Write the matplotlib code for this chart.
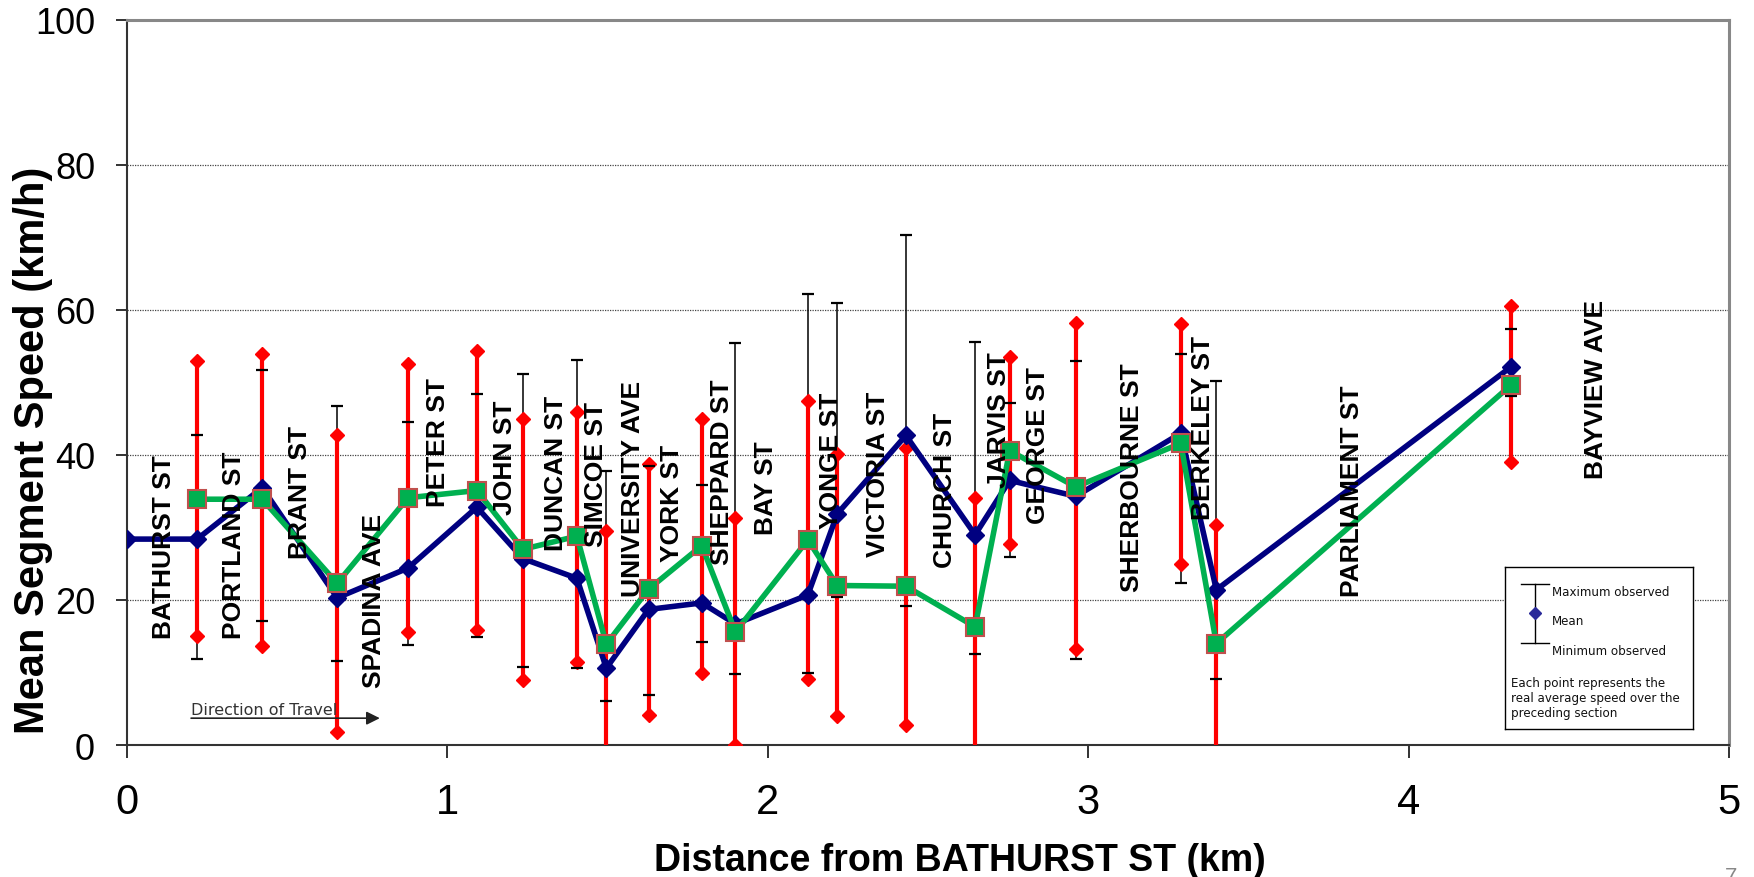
import matplotlib.pyplot as plt

plt.rcParams['font.family'] = ['Liberation Sans', 'DejaVu Sans']

# Distance of each intersection from BATHURST ST (km)
dist = [0.0, 0.219, 0.422, 0.656, 0.877, 1.092, 1.236, 1.404, 1.496, 1.628, 1.794,
        1.899, 2.125, 2.217, 2.431, 2.647, 2.755, 2.961, 3.289, 3.400, 4.321]

# Mean segment speed, run A (blue) and run B (green, starts at 2nd point)
speed_a = [28.4, 28.4, 35.5, 20.3, 24.4, 32.8, 25.7, 23.0, 10.6, 18.7, 19.6,
           16.7, 20.7, 31.9, 42.7, 29.0, 36.5, 34.3, 43.0, 21.4, 52.2]
speed_b = [33.9, 33.9, 22.3, 34.1, 35.1, 27.0, 28.8, 13.9, 21.5, 27.5,
           15.6, 28.3, 22.0, 21.9, 16.3, 40.6, 35.6, 41.6, 14.0, 49.7]

# Red range bars (same x as speed_b)
red_hi = [52.9, 54.0, 42.7, 52.6, 54.3, 44.9, 46.0, 29.5, 38.8, 45.0,
          31.3, 47.4, 40.1, 41.0, 34.1, 53.5, 58.2, 58.1, 30.3, 60.5]
red_lo = [15.0, 13.7, 1.75, 15.6, 15.9, 9.0, 11.5, -1.5, 4.1, 9.9,
          0.0, 9.1, 4.0, 2.8, -1.5, 27.7, 13.2, 25.0, -1.5, 39.0]

# Maximum / minimum observed (black bars)
obs_max = [42.8, 51.7, 46.7, 44.6, 48.4, 51.2, 53.1, 37.8, 38.5, 35.8,
           55.5, 62.2, 61.0, 70.3, 55.6, 47.2, 53.0, 53.9, 50.2, 57.4]
obs_min = [11.9, 17.1, 11.6, 13.8, 14.9, 10.7, 10.6, 6.1, 6.9, 14.2,
           9.8, 9.9, 20.4, 19.2, 12.5, 26.0, 11.9, 22.3, 9.1, 48.1]

streets = ['BATHURST ST', 'PORTLAND ST', 'BRANT ST', 'SPADINA AVE', 'PETER ST',
           'JOHN ST', 'DUNCAN ST', 'SIMCOE ST', 'UNIVERSITY AVE', 'YORK ST',
           'SHEPPARD ST', 'BAY ST', 'YONGE ST', 'VICTORIA ST', 'CHURCH ST',
           'JARVIS ST', 'GEORGE ST', 'SHERBOURNE ST', 'BERKELEY ST',
           'PARLIAMENT ST', 'BAYVIEW AVE']
street_x = [0.116, 0.333, 0.539, 0.770, 0.970, 1.179, 1.340, 1.465, 1.580, 1.702,
            1.856, 1.995, 2.197, 2.343, 2.553, 2.721, 2.842, 3.137, 3.357,
            3.823, 4.585]
street_y = [14.8, 14.8, 25.8, 8.0, 33.0, 31.9, 26.9, 27.4, 20.5, 25.4,
            24.9, 29.1, 29.9, 26.1, 24.6, 35.6, 30.6, 21.3, 31.2,
            20.6, 36.8]

fig = plt.figure(figsize=(17.54, 8.78), dpi=100)
ax = fig.add_axes([127 / 1754, 1 - 746 / 878, 1602 / 1754, 725 / 878])

x_b = dist[1:]

# black max/min bars: stem under the red bars, caps on top
ax.vlines(x_b, obs_min, obs_max, color='black', lw=1.1, zorder=2)
ax.plot(x_b, obs_max, '_', color='black', ms=9, mew=1.6, zorder=5, ls='none')
ax.plot(x_b, obs_min, '_', color='black', ms=9, mew=1.6, zorder=5, ls='none')

# red range bars with diamond ends
ax.vlines(x_b, red_lo, red_hi, color='#ff0000', lw=3, zorder=3)
ax.plot(x_b, red_hi, 'D', color='#ff0000', ms=7.5, ls='none', zorder=4)
ax.plot(x_b, red_lo, 'D', color='#ff0000', ms=7.5, ls='none', zorder=4)

ax.plot(dist, speed_a, color='#000080', lw=4, marker='D', ms=9.5, zorder=6)
ax.plot(x_b, speed_b, color='#00b050', lw=4, marker='s', ms=13,
        mfc='#00b050', mec='#c0504d', mew=1.5, zorder=7)

for name, sx, sy in zip(streets, street_x, street_y):
    ax.text(sx, sy, name, rotation=90, ha='center', va='bottom',
            fontsize=19, fontweight='bold', zorder=8)

# direction arrow
ax.annotate('', xy=(0.789, 3.7), xytext=(0.2, 3.7),
            arrowprops=dict(arrowstyle='-|>', color='#222222', lw=1.2,
                            mutation_scale=20, shrinkA=0, shrinkB=0))
ax.text(0.2, 4.3, 'Direction of Travel', fontsize=11.5, color='#333333',
        va='baseline', family='DejaVu Sans')

ax.set_xlim(0, 5)
ax.set_ylim(0, 100)
ax.set_xticks(range(6))
ax.set_yticks(range(0, 101, 20))
ax.yaxis.grid(True, linestyle=(0, (1, 1)), color='#444444', lw=0.9)
ax.set_axisbelow(True)

ax.tick_params(axis='y', labelsize=26, length=8, width=1.3, pad=15, color='#222222')
ax.tick_params(axis='x', labelsize=30, length=9.5, width=1.3, pad=17, color='#222222')

for side in ['left', 'bottom']:
    ax.spines[side].set_color('#333333')
    ax.spines[side].set_linewidth(1.5)
for side in ['top', 'right']:
    ax.spines[side].set_color('#888888')
    ax.spines[side].set_linewidth(2.2)

ax.set_ylabel('Mean Segment Speed (km/h)', fontsize=30, fontweight='bold', va='center')
ax.yaxis.set_label_coords(-0.0584, 0.408)
ax.set_xlabel('Distance from BATHURST ST (km)', fontsize=27, fontweight='bold')
ax.xaxis.set_label_coords(0.52, -0.134)

# key box
lax = fig.add_axes([1505 / 1754, 1 - 730 / 878, 188 / 1754, 162 / 878], zorder=10)
lax.set_xlim(0, 1)
lax.set_ylim(0, 1)
lax.set_xticks([])
lax.set_yticks([])
for s in lax.spines.values():
    s.set_linewidth(1)
    s.set_color('black')
lax.plot([0.16, 0.16], [0.529, 0.895], color='black', lw=1)
lax.plot([0.085, 0.235], [0.895, 0.895], color='black', lw=1)
lax.plot([0.085, 0.235], [0.529, 0.529], color='black', lw=1)
lax.plot([0.16], [0.714], 'D', color='#2a2a9a', ms=6)
key_font = dict(fontsize=8.6, family='DejaVu Sans', va='center', color='#111111')
lax.text(0.248, 0.85, 'Maximum observed', **key_font)
lax.text(0.248, 0.667, 'Mean', **key_font)
lax.text(0.248, 0.483, 'Minimum observed', **key_font)
lax.text(0.03, 0.288, 'Each point represents the', **key_font)
lax.text(0.03, 0.196, 'real average speed over the', **key_font)
lax.text(0.03, 0.103, 'preceding section', **key_font)

fig.text(1731 / 1754, 0.0, '7', fontsize=16, color='#888888', ha='center', va='center')

fig.savefig('out.png', dpi=100)
